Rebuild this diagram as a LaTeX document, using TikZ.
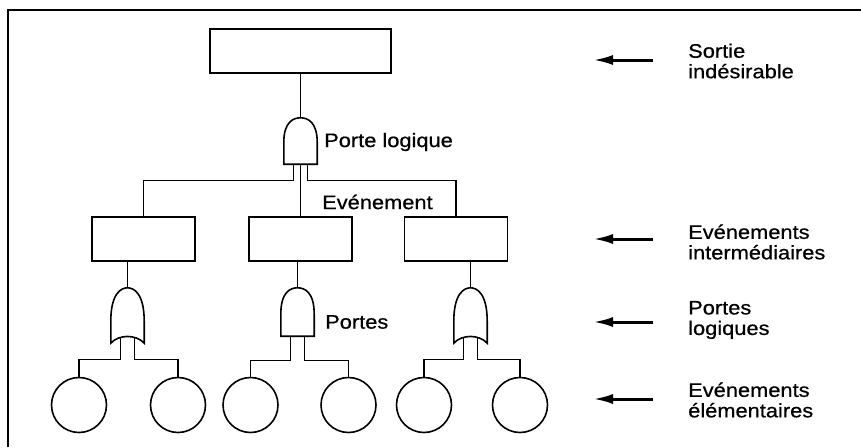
\documentclass[tikz,border=0pt]{standalone}
\usepackage{fontspec}
\setmainfont{Liberation Sans}[FakeStretch=1.12, FakeBold=0.6]
\usetikzlibrary{arrows.meta, calc}

\begin{document}
\begin{tikzpicture}[
  x=1pt, y=-1pt,
  font=\fontsize{19.5}{20.5}\selectfont,
  event/.style={draw,line width=1.6pt,minimum width=103pt,minimum height=44pt,inner sep=0pt},
  basic/.style={draw,circle,line width=1.6pt,minimum size=55pt,inner sep=0pt},
  gate/.style={minimum width=33pt,minimum height=#1,inner sep=0pt},
  label/.style={anchor=west,align=left,inner sep=0pt},
  link/.style={line width=1.1pt},
  pointer/.style={-{Latex[length=20pt,width=10pt]},line width=3pt}
]
  \useasboundingbox (0,0) rectangle (861,447);
  \draw[line width=1.5pt] (8,447) -- (8,10) -- (861,10);

  % nodes of the tree
  \node[event,minimum width=181pt] (top) at (300.5,51) {};
  \node[gate=46pt] (g0) at (300.5,141) {};
  \node[event] (e1) at (143.5,239) {};
  \node[event] (e2) at (300.5,239) {};
  \node[event] (e3) at (456,239) {};
  \node[gate=55pt] (g1) at (127.5,315.5) {};
  \node[gate=48pt] (g2) at (297.5,312) {};
  \node[gate=55pt] (g3) at (470.5,315.5) {};
  \foreach \n/\x in {c1/79,c2/178,c3/250.5,c4/348.5,c5/424,c6/520}
    \node[basic] (\n) at (\x,405) {};

  % gate outlines
  \foreach \g in {g0,g2}
    \draw[line width=1.6pt] (\g.south west) -- ([yshift=22pt]\g.south west)
      .. controls ([yshift=-4pt]\g.north west) and ([xshift=-7pt]\g.north) .. (\g.north)
      .. controls ([xshift=7pt]\g.north) and ([yshift=-4pt]\g.north east) .. ([yshift=22pt]\g.south east)
      -- (\g.south east) -- cycle;
  \foreach \g in {g1,g3}
    \draw[line width=1.6pt] (\g.south west) -- ([yshift=22pt]\g.south west)
      .. controls ([yshift=-5pt]\g.north west) and ([xshift=-6pt]\g.north) .. (\g.north)
      .. controls ([xshift=6pt]\g.north) and ([yshift=-5pt]\g.north east) .. ([yshift=22pt]\g.south east)
      -- (\g.south east)
      .. controls ([xshift=-8pt,yshift=9pt]\g.south east) and ([xshift=8pt,yshift=9pt]\g.south west) .. (\g.south west)
      -- cycle;

  % connectors
  \draw[link] (top) -- (g0);
  \draw[link] ([xshift=-7pt]g0.south) -- ++(0,16) -| (e1.north);
  \draw[link] (g0.south) -- (e2.north);
  \draw[link] ([xshift=7pt]g0.south) -- ++(0,16) -| (e3.north);
  \draw[link] (e1.south -| g1.north) -- (g1.north);
  \draw[link] (e2.south -| g2.north) -- (g2.north);
  \draw[link] (e3.south -| g3.north) -- (g3.north);
  \draw[link] ([xshift=-7pt,yshift=6pt]g1.south) -- ++(0,22) -| (c1.north);
  \draw[link] ([xshift=7pt,yshift=6pt]g1.south) -- ++(0,22) -| (c2.north);
  \draw[link] ([xshift=-7pt]g2.south) -- ++(0,24) -| (c3.north);
  \draw[link] ([xshift=7pt]g2.south) -- ++(0,24) -| (c4.north);
  \draw[link] ([xshift=-7pt,yshift=6pt]g3.south) -- ++(0,22) -| (c5.north);
  \draw[link] ([xshift=7pt,yshift=6pt]g3.south) -- ++(0,22) -| (c6.north);

  % texts
  \node[label] (pl) at (324,142) {Porte logique};
  \node[label] (ev) at (322,202) {Evénement};
  \node[label] (po) at (325,322) {Portes};
  \node[label] (l1) at (688,61) {Sortie\\indésirable};
  \node[label] (l2) at (688,242) {Evénements\\intermédiaires};
  \node[label] (l3) at (688,320) {Portes\\logiques};
  \node[label] (l4) at (688,400) {Evénements\\élémentaires};

  % arrows of the legend
  \foreach \i/\y in {1/60,2/239,3/322,4/399} {
    \coordinate (t\i) at (653,\y);
    \coordinate (h\i) at (593,\y);
    \draw[pointer] (t\i) -- (h\i);
  }
\end{tikzpicture}
\end{document}
